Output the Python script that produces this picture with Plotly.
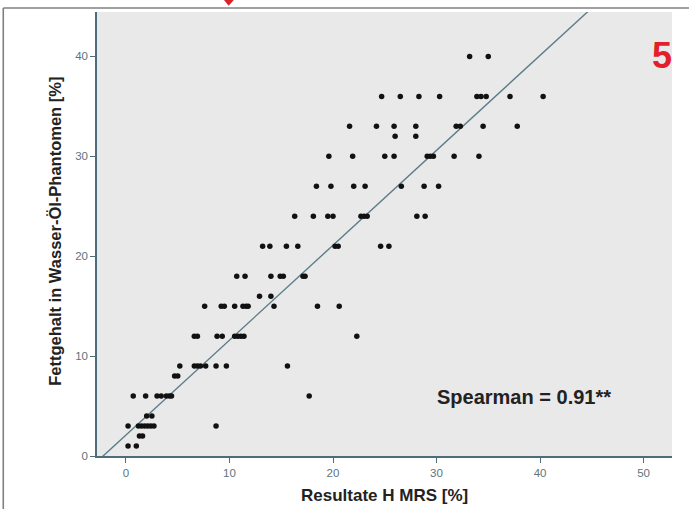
import plotly.graph_objects as go

# ---- data ----
fat_levels = [1, 2, 3, 4, 6, 8, 9, 12, 15, 16, 18, 21, 24, 27, 30, 32, 33, 36, 40]
mrs_at_level = [
    [0.2, 1.0],
    [1.3, 1.6],
    [0.2, 1.2, 1.5, 1.8, 2.1, 2.4, 2.7, 8.7],
    [2.0, 2.5],
    [0.7, 1.9, 3.0, 3.4, 3.9, 4.2, 4.4, 17.7],
    [4.7, 5.0],
    [5.2, 6.6, 6.9, 7.2, 7.7, 8.7, 9.7, 15.6],
    [6.6, 6.9, 8.8, 9.3, 10.5, 10.8, 11.1, 11.4, 22.3],
    [7.6, 9.2, 9.5, 10.5, 11.3, 11.6, 11.8, 14.3, 18.5, 20.6],
    [12.9, 14.0],
    [10.7, 11.5, 14.0, 14.9, 15.2, 17.1, 17.3],
    [13.2, 13.9, 15.5, 16.6, 20.2, 20.5, 24.6, 25.4],
    [16.3, 18.1, 19.5, 20.0, 22.7, 23.0, 23.3, 28.1, 28.9],
    [18.4, 19.8, 22.0, 23.1, 26.6, 28.8, 30.2],
    [19.6, 21.9, 25.0, 25.9, 29.1, 29.4, 29.7, 31.7, 34.1],
    [26.0, 28.0],
    [21.6, 24.2, 25.9, 28.0, 31.9, 32.3, 34.5, 37.8],
    [24.7, 26.5, 28.3, 30.3, 33.9, 34.3, 34.8, 37.1, 40.3],
    [33.2, 35.0],
]
x_ticks = [0, 10, 20, 30, 40, 50]
y_ticks = [0, 10, 20, 30, 40]

# fitted line
line_intercept = 2.1
line_slope = 0.95
line_x = [-2.8, 52.8]

x_title = "Resultate H MRS [%]"
y_title = "Fettgehalt in Wasser-Öl-Phantomen [%]"
stat_text = "Spearman = 0.91**"
panel_label = "5"

mrs_result, phantom_fat = [], []
for lvl, xs in zip(fat_levels, mrs_at_level):
    for v in xs:
        mrs_result.append(v)
        phantom_fat.append(lvl)

FONT = "Liberation Sans, Arial, sans-serif"
AXIS_COL = "#4f6d79"
TICK_FONT_COL = "#5d7480"

fig = go.Figure()
fig.add_trace(go.Scatter(
    x=line_x, y=[line_intercept + line_slope * v for v in line_x],
    mode="lines", line=dict(color="#5c7d88", width=1.4),
    hoverinfo="skip", showlegend=False))
fig.add_trace(go.Scatter(
    x=mrs_result, y=phantom_fat, mode="markers",
    marker=dict(color="#111111", size=5.5, line=dict(width=0)),
    showlegend=False))

axis_common = dict(
    showgrid=False, zeroline=False, showline=True, linecolor=AXIS_COL, linewidth=1.5,
    ticks="outside", ticklen=5, tickwidth=1.2, tickcolor=AXIS_COL,
    tickfont=dict(family=FONT, size=11.5, color=TICK_FONT_COL), mirror=False,
)
fig.update_layout(
    width=689, height=509,
    margin=dict(l=97, r=17, t=12, b=53),
    paper_bgcolor="white", plot_bgcolor="#e9e9e9",
    font=dict(family=FONT),
    xaxis=dict(range=[-2.8, 52.75], tickvals=x_ticks, **axis_common),
    yaxis=dict(range=[0, 44.45], tickvals=y_ticks, **axis_common),
    annotations=[
        dict(text=f"<b>{x_title}</b>", xref="paper", yref="paper", x=0.5, y=-0.088,
             xanchor="center", yanchor="middle", showarrow=False,
             font=dict(family=FONT, size=17, color="#222222")),
        dict(text=f"<b>{y_title}</b>", xref="paper", yref="paper", x=-0.073, y=0.505,
             xanchor="center", yanchor="middle", showarrow=False, textangle=-90,
             font=dict(family=FONT, size=16.5, color="#222222")),
        dict(text=f"<b>{stat_text}</b>", xref="paper", yref="paper", x=0.742, y=0.132,
             xanchor="center", yanchor="middle", showarrow=False,
             font=dict(family=FONT, size=20, color="#222222")),
        dict(text=f"<b>{panel_label}</b>", xref="paper", yref="paper", x=0.983, y=0.902,
             xanchor="center", yanchor="middle", showarrow=False,
             font=dict(family=FONT, size=36, color="#e3202a")),
    ],
    shapes=[
        # outer frame (top and left edges)
        dict(type="line", xref="paper", yref="paper", x0=-0.163, x1=1.05, y0=1.009, y1=1.009,
             line=dict(color="#808080", width=1.6)),
        dict(type="line", xref="paper", yref="paper", x0=-0.163, x1=-0.163, y0=1.009, y1=-0.15,
             line=dict(color="#808080", width=1.6)),
        # red marker tip at the top
        dict(type="path", xref="paper", yref="paper",
             path="M 0.219,1.03 L 0.240,1.03 L 0.229,1.014 Z",
             fillcolor="#d9232a", line=dict(width=0)),
    ],
)

fig.write_html("out.html", config={"displayModeBar": False},
               post_script="document.body.style.margin='0px';document.body.style.overflow='hidden';")
